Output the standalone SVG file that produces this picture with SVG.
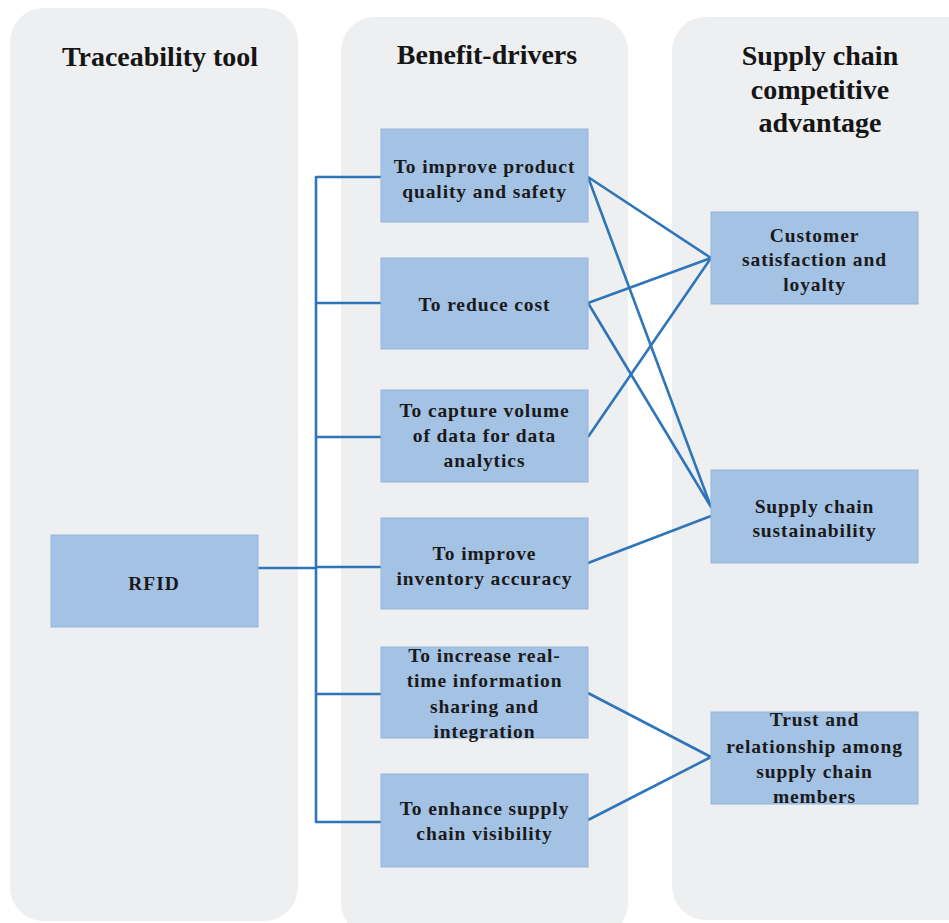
<svg xmlns="http://www.w3.org/2000/svg" width="949" height="923" viewBox="0 0 949 923">
<style>
.panel{fill:#edeff0;}
.box{fill:#a4c2e4;stroke:#94b5dc;stroke-width:1;}
.hdr{font-family:"Liberation Serif","Times New Roman",serif;font-weight:bold;font-size:28px;fill:#151515;text-anchor:middle;}
.t{font-family:"Liberation Serif","Times New Roman",serif;font-weight:bold;font-size:19.5px;letter-spacing:0.9px;fill:#1a1a1a;text-anchor:middle;}
.ln{fill:none;stroke:#2f75b9;stroke-width:2.6;stroke-linejoin:round;}
</style>
<rect width="949" height="923" fill="#ffffff"/>
<g id="panels">
<rect class="panel" x="10" y="8" width="288" height="913" rx="34"/>
<rect class="panel" x="341" y="17" width="287" height="920" rx="34"/>
<rect class="panel" x="672" y="17" width="310" height="903" rx="34"/>
<text class="hdr" x="160" y="66">Traceability tool</text>
<text class="hdr" x="487" y="64">Benefit-drivers</text>
<text class="hdr" x="820" y="65">Supply chain</text>
<text class="hdr" x="820" y="99">competitive</text>
<text class="hdr" x="820" y="132">advantage</text>
</g>
<g id="connectors">
<polyline class="ln" points="258,568 316,568"/>
<polyline class="ln" points="381,177 316,177 316,822 381,822"/>
<line class="ln" x1="316" y1="303" x2="381" y2="303"/>
<line class="ln" x1="316" y1="437" x2="381" y2="437"/>
<line class="ln" x1="316" y1="567" x2="381" y2="567"/>
<line class="ln" x1="316" y1="694" x2="381" y2="694"/>
<polyline class="ln" points="588,177 711,258 588,303"/>
<line class="ln" x1="588" y1="437" x2="711" y2="258"/>
<polyline class="ln" points="588,177 711,507 588,303"/>
<line class="ln" x1="588" y1="563" x2="711" y2="516"/>
<polyline class="ln" points="588,693 711,757 588,820"/>
</g>
<g id="rfid">
<rect class="box" x="51" y="535" width="207" height="92"/>
<text class="t" x="154" y="590">RFID</text>
</g>
<g id="quality">
<rect class="box" x="381" y="129" width="207" height="93"/>
<text class="t" x="484.5" y="173">To improve product</text>
<text class="t" x="484.5" y="198">quality and safety</text>
</g>
<g id="cost">
<rect class="box" x="381" y="258" width="207" height="91"/>
<text class="t" x="484.5" y="311">To reduce cost</text>
</g>
<g id="data">
<rect class="box" x="381" y="390" width="207" height="92"/>
<text class="t" x="484.5" y="417">To capture volume</text>
<text class="t" x="484.5" y="442">of data for data</text>
<text class="t" x="484.5" y="467">analytics</text>
</g>
<g id="inventory">
<rect class="box" x="381" y="518" width="207" height="91"/>
<text class="t" x="484.5" y="560">To improve</text>
<text class="t" x="484.5" y="585">inventory accuracy</text>
</g>
<g id="sharing">
<rect class="box" x="381" y="647" width="207" height="91"/>
<text class="t" x="484.5" y="662">To increase real-</text>
<text class="t" x="484.5" y="687">time information</text>
<text class="t" x="484.5" y="713">sharing and</text>
<text class="t" x="484.5" y="738">integration</text>
</g>
<g id="visibility">
<rect class="box" x="381" y="774" width="207" height="93"/>
<text class="t" x="484.5" y="815">To enhance supply</text>
<text class="t" x="484.5" y="840">chain visibility</text>
</g>
<g id="customer">
<rect class="box" x="711" y="212" width="207" height="92"/>
<text class="t" x="814.5" y="242">Customer</text>
<text class="t" x="814.5" y="266">satisfaction and</text>
<text class="t" x="814.5" y="291">loyalty</text>
</g>
<g id="sustainability">
<rect class="box" x="711" y="470" width="207" height="93"/>
<text class="t" x="814.5" y="513">Supply chain</text>
<text class="t" x="814.5" y="537">sustainability</text>
</g>
<g id="trust">
<rect class="box" x="711" y="712" width="207" height="92"/>
<text class="t" x="814.5" y="726">Trust and</text>
<text class="t" x="814.5" y="753">relationship among</text>
<text class="t" x="814.5" y="778">supply chain</text>
<text class="t" x="814.5" y="803">members</text>
</g>
</svg>
